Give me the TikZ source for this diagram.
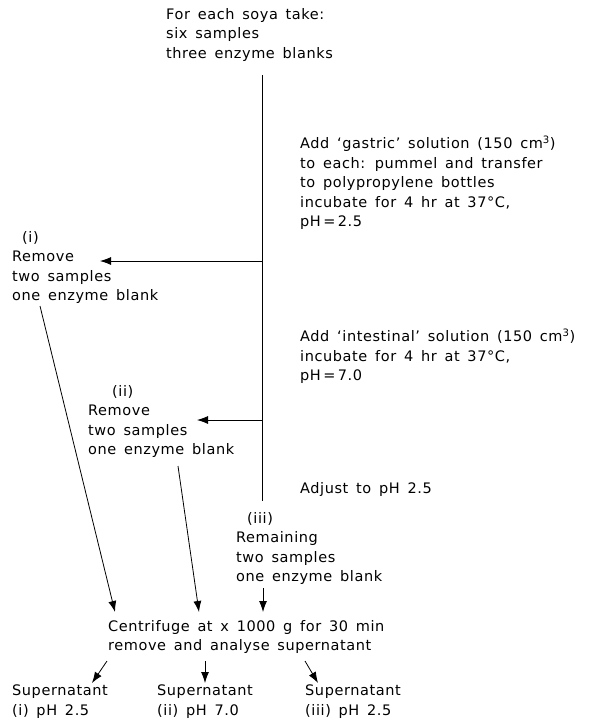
\documentclass[tikz,border=0pt]{standalone}
\usepackage{fontspec}
\setmainfont{DejaVu Sans}[WordSpace=1.5, LetterSpace=4]
\usetikzlibrary{arrows.meta}

\begin{document}
\begin{tikzpicture}[x=1pt, y=-1pt,
          txt/.style={inner sep=0pt, anchor=north west, align=left, font=\fontsize{14.5}{19.5}\selectfont},
          arrow/.style={-{Latex[length=11pt, width=8pt]}, line width=0.8pt},
          wire/.style={line width=0.8pt}
        ]
          \useasboundingbox (0,0) rectangle (599,720);

          % Steps along the main line
          \node[txt] (start) at (166,8) {For each soya take:\\six samples\\three enzyme blanks};
          \node[txt] (gastric) at (300,136) {Add `gastric' solution (150 cm\textsuperscript{3})\\to each: pummel and transfer\\to polypropylene bottles\\incubate for 4 hr at 37°C,\\pH\,=\,2.5};
          \node[txt] (intestinal) at (300,329) {Add `intestinal' solution (150 cm\textsuperscript{3})\\incubate for 4 hr at 37°C,\\pH\,=\,7.0};
          \node[txt] (adjust) at (300,482) {Adjust to pH 2.5};

          % Removed portions
          \node[txt] (rem1) at (12,231) {\hspace*{10pt}(i)\\Remove\\two samples\\one enzyme blank};
          \node[txt] (rem2) at (88,385) {\hspace*{24pt}(ii)\\Remove\\two samples\\one enzyme blank};
          \node[txt] (rem3) at (236,512) {\hspace*{11pt}(iii)\\Remaining\\two samples\\one enzyme blank};

          % Centrifuge and supernatants
          \node[txt] (spin) at (108,620) {Centrifuge at x 1000 g for 30 min\\remove and analyse supernatant};
          \node[txt] (sup1) at (12,685) {Supernatant\\(i) pH 2.5};
          \node[txt] (sup2) at (157,685) {Supernatant\\(ii) pH 7.0};
          \node[txt] (sup3) at (305,685) {Supernatant\\(iii) pH 2.5};

          % Main line and branches
          \coordinate (s0) at (262,75);
          \coordinate (s1) at (262,261);
          \coordinate (s2) at (262,420);
          \coordinate (s3) at (262,501);
          \coordinate (t1) at (100,261);
          \coordinate (t2) at (197,420);
          \draw[wire] (s0) -- (s3);
          \draw[arrow] (s1) -- (t1);
          \draw[arrow] (s2) -- (t2);

          % Into the centrifuge
          \coordinate (d1) at (40,306);
          \coordinate (c1) at (115,612);
          \coordinate (d2) at (178,466);
          \coordinate (c2) at (199,612);
          \coordinate (d3) at (263,588);
          \coordinate (c3) at (263,612);
          \draw[arrow] (d1) -- (c1);
          \draw[arrow] (d2) -- (c2);
          \draw[arrow] (d3) -- (c3);

          % Out of the centrifuge
          \coordinate (e1) at (107,661);
          \coordinate (f1) at (92,683);
          \coordinate (e2) at (205,661);
          \coordinate (f2) at (205,683);
          \coordinate (e3) at (305,661);
          \coordinate (f3) at (318,683);
          \draw[arrow] (e1) -- (f1);
          \draw[arrow] (e2) -- (f2);
          \draw[arrow] (e3) -- (f3);
        \end{tikzpicture}
\end{document}
